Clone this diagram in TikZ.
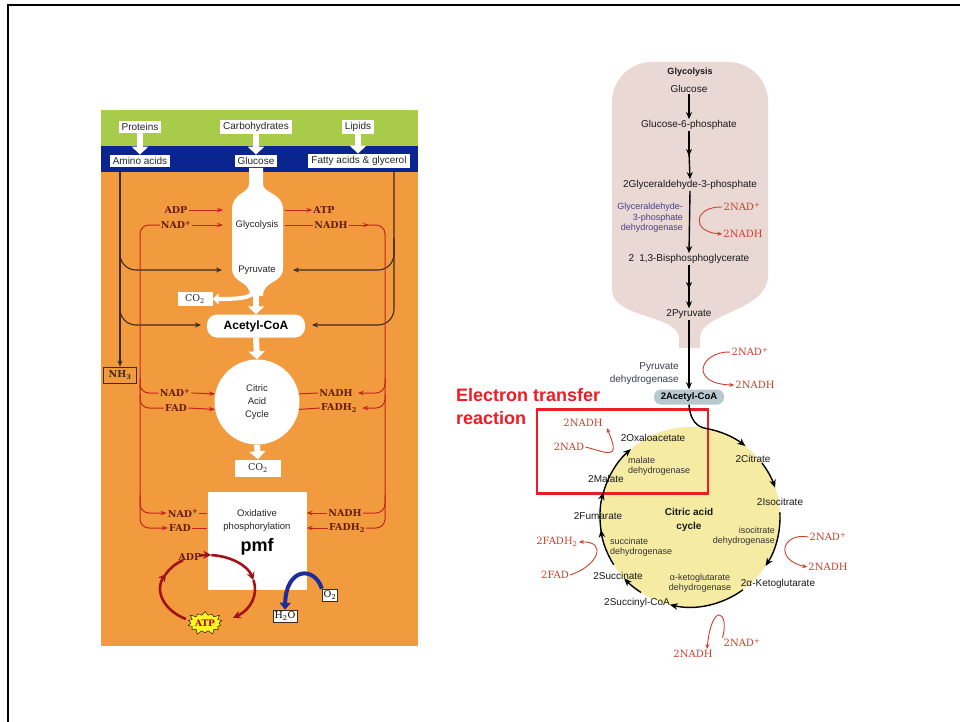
\documentclass[tikz,border=0pt]{standalone}
\usepackage{fontspec}
\setsansfont{Liberation Sans}
\newfontfamily\serf{DejaVu Serif}
\usetikzlibrary{arrows.meta,shapes.symbols}
\definecolor{lgreen}{HTML}{A8CB4A}
\definecolor{dblue}{HTML}{0B2590}
\definecolor{org}{HTML}{F29A3E}
\definecolor{rline}{HTML}{C4261E}
\definecolor{dred}{HTML}{A3121A}
\definecolor{barrow}{HTML}{1B2E9C}
\definecolor{dline}{HTML}{3B2A1E}
\definecolor{pinkbg}{HTML}{E9D8D4}
\definecolor{cyc}{HTML}{F6EBA3}
\definecolor{pillc}{HTML}{B7C8D0}
\definecolor{rtext}{HTML}{C8432F}
\definecolor{lbl}{HTML}{6A1B10}
\definecolor{enz}{HTML}{4A3F8A}
\definecolor{etr}{HTML}{EE1C24}
\definecolor{slate}{HTML}{3C3C52}
\tikzset{
  wbox/.style={fill=white, inner xsep=3pt, inner ysep=2.5pt, font=\sffamily\fontsize{10}{12}\selectfont, text=black!85},
  warrow/.style={draw=white, line width=6pt, -{Triangle[width=16pt,length=8pt]}},
  blk/.style={draw=dline, line width=1.1pt, -{Stealth[length=6pt,width=5pt]}},
  rln/.style={draw=rline, line width=1pt},
  rarr/.style={rln, -{Stealth[length=6pt,width=4.5pt]}},
  slab/.style={font=\serf\bfseries\fontsize{9.5}{11}\selectfont, text=lbl, inner sep=1pt},
  stxt/.style={font=\sffamily\fontsize{9.5}{13}\selectfont, text=black!85, inner sep=1pt},
  sbox/.style={fill=white, font=\serf\fontsize{9.5}{11}\selectfont, text=black!85, inner sep=1pt},
  dcyc/.style={draw=dred, line width=2.6pt, -{Stealth[length=8pt,width=8pt]}},
  klab/.style={font=\sffamily\fontsize{10}{12}\selectfont, text=black!90, inner sep=1pt},
  elab/.style={font=\sffamily\fontsize{9}{10.5}\selectfont, text=black!80, inner sep=1pt},
  rlab/.style={font=\serf\fontsize{10}{12}\selectfont, text=rtext, inner sep=1pt},
  barr/.style={draw=black, line width=1.4pt, -{Stealth[length=7pt,width=6pt]}},
  rc/.style={draw=rtext, line width=0.9pt, -{Stealth[length=5pt,width=4pt]}},
  cyca/.style={draw=black, line width=1.4pt, -{Stealth[length=8pt,width=6.5pt]}},
  cycl/.style={draw=black, line width=1.4pt},
}
\begin{document}
\begin{tikzpicture}[x=1pt,y=-1pt]
\useasboundingbox (0,0) rectangle (960,722);
\fill[white] (0,0) rectangle (960,722);
\draw[line width=2pt] (8,722) -- (8,5) -- (960,5);

% ================= LEFT PANEL =================
\fill[lgreen] (101,110) rectangle (418,146);
\fill[dblue] (101,146) rectangle (418,172);
\fill[org] (101,172) rectangle (418,646);

\fill[white] (249,168) -- (249,184) .. controls (249,194) and (232,192) .. (232,210) -- (232,268) .. controls (232,284) and (250,280) .. (250,296) -- (263,296) .. controls (263,280) and (283,284) .. (283,268) -- (283,210) .. controls (283,192) and (263,194) .. (263,184) -- (263,168) -- cycle;

\node[wbox] (prot) at (140,127) {Proteins};
\node[wbox] (carb) at (256,127) {Carbohydrates};
\node[wbox] (lip) at (358,127) {Lipids};
\node[wbox] (amino) at (140,161) {Amino acids};
\node[wbox] (gluc) at (256,161) {Glucose};
\node[wbox] (fatty) at (359,161) {Fatty acids \& glycerol};
\draw[warrow] (prot.south) -- (amino.north);
\draw[warrow] (carb.south) -- (gluc.north);
\draw[warrow] (lip.south) -- (lip.south |- fatty.north);

\node[stxt] (glyc) at (257,225) {Glycolysis};
\node[stxt] (pyr) at (257,270) {Pyruvate};
\node[sbox, minimum width=35pt, minimum height=14pt] (co2a) at (195,299) {CO\textsubscript{2}};
\node[fill=white, rounded corners=10pt, minimum width=98pt, minimum height=23pt, inner sep=1pt, font=\sffamily\bfseries\fontsize{12}{14}\selectfont] (acoa) at (256,326) {Acetyl-CoA};
\node[circle, fill=white, minimum size=85pt, inner sep=0pt, align=center, font=\sffamily\fontsize{9.5}{13}\selectfont, text=black!85] (cac) at (257,402) {Citric\\Acid\\Cycle};
\node[sbox, minimum width=46pt, minimum height=17pt] (co2b) at (258,468) {CO\textsubscript{2}};
\node[fill=white, minimum width=99pt, minimum height=98pt, inner sep=0pt] (oxp) at (257,541) {};
\node[stxt] (ox1) at (257,513) {Oxidative};
\node[stxt] (ox2) at (257,527) {phosphorylation};
\node[font=\sffamily\bfseries\fontsize{18}{20}\selectfont, inner sep=0pt] (pmf) at (257,547) {pmf};

\draw[white, line width=4pt, -{Triangle[width=11pt,length=6pt]}] (256,286) .. controls (256,297) and (245,299) .. (co2a.east);
\draw[warrow] (256,294) -- (acoa.north);
\draw[warrow] (acoa.south) -- (cac.north);
\draw[warrow] (cac.south) -- (co2b.north);

% black lines
\node[draw=dline, line width=0.8pt, minimum width=33pt, minimum height=16pt, inner sep=1pt, font=\serf\bfseries\fontsize{9.5}{11}\selectfont, text=dline] (nh3) at (120,375) {NH\textsubscript{3}};
\coordinate (pyrL) at (222,270);
\coordinate (pyrR) at (293,270);
\coordinate (acL) at (201,325);
\coordinate (acR) at (312,325);
\coordinate (bl1) at (120,238);
\coordinate (bl2) at (120,292);
\coordinate (br0) at (394,172);
\coordinate (br1) at (394,238);
\draw[blk] (120,172) -- (nh3.north);
\draw[blk, rounded corners=16pt] (bl1) |- (pyrL);
\draw[blk, rounded corners=16pt] (bl2) |- (acL);
\draw[blk, rounded corners=16pt] (br0) |- (acR);
\draw[blk, rounded corners=16pt] (br1) |- (pyrR);

% red labels
\node[slab] (adp1) at (176,210) {ADP};
\node[slab] (nad1) at (176,225) {NAD\textsuperscript{+}};
\node[slab] (atp1) at (324,210) {ATP};
\node[slab] (nadh1) at (331,225) {NADH};
\node[slab] (nad2) at (175,393) {NAD\textsuperscript{+}};
\node[slab] (fad2) at (176,408) {FAD};
\node[slab] (nadh2) at (336,393) {NADH};
\node[slab] (fadh2) at (339,408) {FADH\textsubscript{2}};
\node[slab] (nad4) at (183,513) {NAD\textsuperscript{+}};
\node[slab] (fad4) at (180,528) {FAD};
\node[slab] (nadh4) at (345,513) {NADH};
\node[slab] (fadh4) at (347,528) {FADH\textsubscript{2}};

\draw[rarr] (adp1.east) -- (223,210);
\draw[rarr] (nad1.east) -- (223,225);
\draw[rarr] (285,210) -- (atp1.west);
\draw[rln] (285,225) -- (nadh1.west);
\draw[rarr] (nadh1.east) -- (369,225);
\draw[rln, rounded corners=9pt] (367,225) -- (385,225) -- (385,528) -- (fadh4.east);
\draw[rln, rounded corners=9pt] (385,495) |- (nadh4.east);
\draw[rln, rounded corners=9pt] (nad1.west) -- (140,225) -- (140,390);
\draw[rarr, rounded corners=9pt] (140,385) -- (140,528) -- (fad4.west);
\draw[rarr, rounded corners=9pt] (140,495) |- (nad4.west);
\draw[rln, rounded corners=9pt] (140,378) |- (nad2.west);
\draw[rln, rounded corners=9pt] (140,394) |- (fad2.west);
\draw[rarr] (nad2.east) -- (cac.169);
\draw[rarr] (fad2.east) -- (cac.190);
\draw[rln] (cac.11) -- (nadh2.west);
\draw[rln] (cac.-10) -- (fadh2.west);
\draw[rarr, rounded corners=9pt, shorten >=4pt] (385,378) |- (nadh2.east);
\draw[rarr, rounded corners=9pt, shorten >=4pt] (385,394) |- (fadh2.east);
\draw[rln] (nad4.east) -- (oxp.west |- nad4);
\draw[rln] (fad4.east) -- (oxp.west |- fad4);
\draw[rarr] (nadh4.west) -- (oxp.east |- nadh4);
\draw[rarr] (fadh4.west) -- (oxp.east |- fadh4);

% ADP / ATP cycle
\coordinate (cy) at (208,589);
\draw[dcyc] ([shift={(-100:47 and 34)}]cy) arc[start angle=-100, end angle=-86, x radius=47, y radius=34];
\draw[dcyc] ([shift={(-86:47 and 34)}]cy) arc[start angle=-86, end angle=-15, x radius=47, y radius=34];
\draw[dcyc] ([shift={(-15:47 and 34)}]cy) arc[start angle=-15, end angle=58, x radius=47, y radius=34];
\draw[dcyc] ([shift={(118:47 and 34)}]cy) arc[start angle=118, end angle=207, x radius=47, y radius=34];
\draw[draw=dred, line width=2.6pt] ([shift={(205:47 and 34)}]cy) arc[start angle=205, end angle=238, x radius=47, y radius=34];
\node[slab] (adp4) at (190,557) {ADP};
\node[starburst, starburst points=14, starburst point height=5pt, fill=yellow!85!white, draw=black, line width=0.4pt, minimum width=38pt, minimum height=26pt, inner sep=0pt, font=\serf\bfseries\fontsize{9}{10}\selectfont, text=red!75!black] (atp4) at (205,623) {ATP};

% O2 / H2O
\node[fill=white, draw=dline, line width=0.7pt, inner sep=1.5pt, font=\serf\fontsize{9.5}{11}\selectfont] (o2) at (330,595) {O\textsubscript{2}};
\node[fill=white, draw=dline, line width=0.7pt, inner sep=1.5pt, font=\serf\fontsize{9.5}{11}\selectfont] (h2o) at (285,616) {H\textsubscript{2}O};
\draw[draw=barrow, line width=4pt, -{Triangle[length=7pt,width=11pt]}] (o2.north west) .. controls (314,565) and (286,568) .. (h2o.north);

% ================= RIGHT PANEL =================
\fill[pinkbg] (612,290) -- (612,102) arc[start angle=180, end angle=270, radius=40] -- (728,62) arc[start angle=270, end angle=360, radius=40] -- (768,275) .. controls (768,312) and (700,312) .. (700,338) -- (700,348) -- (679,348) -- (679,338) .. controls (679,315) and (612,318) .. (612,290) -- cycle;

\node[klab, font=\sffamily\bfseries\fontsize{9}{11}\selectfont] (glyT) at (690,72) {Glycolysis};
\node[klab] (gl1) at (689,89) {Glucose};
\node[klab] (gl2) at (689,125) {Glucose-6-phosphate};
\node[klab] (gl3) at (690,185) {2Glyceraldehyde-3-phosphate};
\node[klab] (gl4) at (689,259) {2\hspace{5pt}1,3-Bisphosphoglycerate};
\node[klab] (gl5) at (689,314) {2Pyruvate};
\node[fill=pillc, rounded corners=7pt, minimum width=70pt, minimum height=15pt, inner sep=1pt, font=\sffamily\bfseries\fontsize{9.5}{11}\selectfont] (acoa2) at (689,397) {2Acetyl-CoA};
\coordinate (m1) at (689,154);
\coordinate (m2) at (689,287);
\draw[barr] (gl1.south) -- (gl2.north);
\draw[barr] (gl2.south) -- ([yshift=-2]m1);
\draw[barr] ([yshift=2]m1) -- (gl3.north);
\draw[barr] (gl3.south) -- (gl4.north);
\draw[barr] (gl4.south) -- ([yshift=-2]m2);
\draw[barr] ([yshift=2]m2) -- (gl5.north);
\draw[barr] (gl5.south) -- (acoa2.north);

\node[elab, text=enz, align=right, anchor=east] (enz1) at (684,218) {Glyceraldehyde-\\3-phosphate\\dehydrogenase};
\node[rlab] (nadA) at (742,207) {2NAD\textsuperscript{+}};
\node[rlab] (nadhA) at (743,234) {2NADH};
\draw[rc] (nadA.west) .. controls (694,206) and (690,232) .. (nadhA.west);

\node[klab, text=slate, align=right, anchor=east, font=\sffamily\fontsize{10}{13}\selectfont] (enz2) at (680,374) {Pyruvate\\dehydrogenase};
\node[rlab] (nadB) at (750,352) {2NAD\textsuperscript{+}};
\node[rlab] (nadhB) at (755,385) {2NADH};
\draw[rc] (nadB.west) .. controls (700,351) and (688,384) .. (nadhB.west);

\node[anchor=west, align=left, inner sep=0pt, font=\sffamily\bfseries\fontsize{18}{23}\selectfont, text=etr] (etr) at (456,407) {Electron transfer\\reaction};

\node[circle, fill=cyc, minimum size=180pt, inner sep=0pt] (tca) at (690,517) {};
\node[draw=etr, line width=2.3pt, minimum width=171pt, minimum height=84pt, inner sep=0pt] (etbox) at (622.5,451.5) {};

\coordinate (C) at (690,517);
\draw[cyca] (acoa2.south) .. controls (690,420) and (697,427) .. ([shift={(-80:90)}]C) arc[start angle=-80, end angle=-52, radius=90];
\draw[cyca] ([shift={(-37:90)}]C) arc[start angle=-37, end angle=-19, radius=90];
\draw[cyca] ([shift={(-3:90)}]C) arc[start angle=-3, end angle=33, radius=90];
\draw[cyca] ([shift={(54:90)}]C) arc[start angle=54, end angle=103, radius=90];
\draw[cyca] ([shift={(123:90)}]C) arc[start angle=123, end angle=137, radius=90];
\draw[cyca] ([shift={(148:90)}]C) arc[start angle=148, end angle=172, radius=90];
\draw[cyca] ([shift={(171:90)}]C) arc[start angle=171, end angle=196, radius=90];
\draw[cyca] ([shift={(195:90)}]C) arc[start angle=195, end angle=229, radius=90];

\node[klab] (oxa) at (653,438) {2Oxaloacetate};
\node[klab] (cit) at (753,459) {2Citrate};
\node[klab] (iso) at (780,502) {2Isocitrate};
\node[klab] (akg) at (778,584) {2α-Ketoglutarate};
\node[klab] (suc) at (637,603) {2Succinyl-CoA};
\node[klab] (sucn) at (618,576) {2Succinate};
\node[klab] (fum) at (598,516) {2Fumarate};
\node[klab] (mal) at (606,479) {2Malate};
\node[elab, align=left, anchor=west] (mdh) at (627,466) {malate\\dehydrogenase};
\node[klab, align=center, font=\sffamily\bfseries\fontsize{10}{14}\selectfont] (cactxt) at (689,520) {Citric acid\\cycle};
\node[elab, align=right, anchor=east] (idh) at (776,536) {isocitrate\\dehydrogenase};
\node[elab, align=left, anchor=west] (sdh) at (609,547) {succinate\\dehydrogenase};
\node[elab, align=center] (kdh) at (700,583) {α-ketoglutarate\\dehydrogenase};

\node[rlab] (nadC) at (828,537) {2NAD\textsuperscript{+}};
\node[rlab] (nadhC) at (828,567) {2NADH};
\draw[rc] (nadC.west) .. controls (782,532) and (774,560) .. (nadhC.west);
\node[rlab] (nadD) at (742,643) {2NAD\textsuperscript{+}};
\node[rlab] (nadhD) at (693,654) {2NADH};
\draw[rc] (nadD.north west) .. controls (730,612) and (712,600) .. ([xshift=14]nadhD.north);
\node[rlab] (fadhE) at (557,542) {2FADH\textsubscript{2}};
\node[rlab] (fadE) at (555,575) {2FAD};
\draw[rc] (fadE.east) .. controls (598,566) and (608,541) .. (fadhE.east);
\node[rlab] (nadhF) at (583,423) {2NADH};
\node[rlab] (nadF) at (569,447) {2NAD};
\draw[rc] (nadF.east) .. controls (606,452) and (622,462) .. ([xshift=3]nadhF.south east);
\end{tikzpicture}
\end{document}
